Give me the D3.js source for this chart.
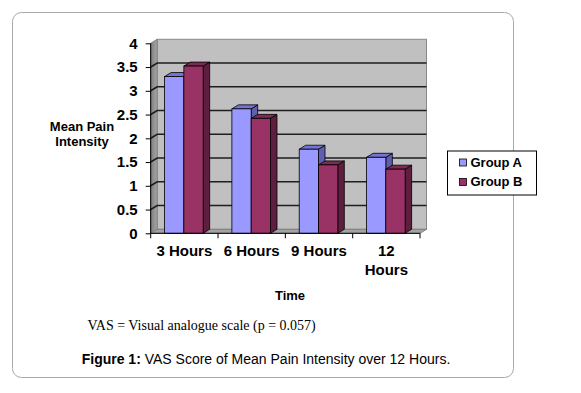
<!DOCTYPE html>
<html>
<head>
<meta charset="utf-8">
<script src="https://cdn.jsdelivr.net/npm/d3@7"></script>
<style>
  html, body { margin: 0; padding: 0; background: #fff; }
  svg { display: block; }
  .sans { font-family: "Liberation Sans", Arial, sans-serif; }
  .serif { font-family: "Liberation Serif", "Times New Roman", serif; }
</style>
</head>
<body>
<svg id="chart" width="581" height="393"></svg>
<script>
// ---- data ----
const categories = ["3 Hours", "6 Hours", "9 Hours", "12 Hours"];
const categoryLabelLines = [["3 Hours"], ["6 Hours"], ["9 Hours"], ["12", "Hours"]];
const seriesNames = ["Group A", "Group B"];
const groupA = [3.30, 2.62, 1.77, 1.60];
const groupB = [3.52, 2.42, 1.44, 1.35];
const yTicks = [0, 0.5, 1, 1.5, 2, 2.5, 3, 3.5, 4];
const yTickLabels = ["0", "0.5", "1", "1.5", "2", "2.5", "3", "3.5", "4"];
const yAxisTitle = ["Mean Pain", "Intensity"];
const xAxisTitle = "Time";
const noteText = "VAS = Visual analogue scale (p = 0.057)";
const captionBold = "Figure 1:";
const captionText = " VAS Score of Mean Pain Intensity over 12 Hours.";

// ---- layout ----
const svg = d3.select("#chart");
const left = 150.7, right = 420, y0px = 233.3, y4px = 43.3;
const dx = 6.5, dy = 4;

const x0 = d3.scaleBand().domain(categories).range([left, right]).paddingInner(0).paddingOuter(0);
const x1 = d3.scaleBand().domain(seriesNames).range([-0.5, x0.bandwidth() - 0.5]).paddingInner(0).paddingOuter(0.744);
const y = d3.scaleLinear().domain([0, 4]).range([y0px, y4px]);

const colors = {
  "Group A": { front: "#9999ff", top: "#7474d6", side: "#5f5fae" },
  "Group B": { front: "#993366", top: "#7d2a54", side: "#5e1f3f" }
};

// outer rounded frame
svg.append("rect").attr("x", 12.5).attr("y", 12.5).attr("width", 501).attr("height", 365)
  .attr("rx", 9).attr("fill", "#fff").attr("stroke", "#a9a9a9").attr("stroke-width", 1);

// defs
const defs = svg.append("defs");
const lg = defs.append("linearGradient").attr("id", "leftwall").attr("x1", "0").attr("x2", "1").attr("y1", "0").attr("y2", "0");
lg.append("stop").attr("offset", "0").attr("stop-color", "#7f7f7f");
lg.append("stop").attr("offset", "1").attr("stop-color", "#a6a6a6");

const yb = v => y(v) - dy; // back-wall y

// back wall
svg.append("rect").attr("x", left + dx).attr("y", yb(4)).attr("width", right - left).attr("height", y(0) - y(4))
  .attr("fill", "#c0c0c0").attr("stroke", "#8a8a8a").attr("stroke-width", 1);
// left wall
svg.append("path")
  .attr("d", `M${left},${y(4)}L${left + dx},${yb(4)}L${left + dx},${yb(0)}L${left},${y(0)}Z`)
  .attr("fill", "url(#leftwall)").attr("stroke", "#808080").attr("stroke-width", 1);
// floor
svg.append("path")
  .attr("d", `M${left},${y(0)}L${left + dx},${yb(0)}L${right + dx},${yb(0)}L${right},${y(0)}Z`)
  .attr("fill", "#a3a3a3").attr("stroke", "#808080").attr("stroke-width", 1);

// gridlines
const gridVals = yTicks.filter(v => v > 0 && v < 4);
svg.append("g").selectAll("path").data(gridVals).join("path")
  .attr("d", v => `M${left},${y(v)}L${left + dx},${yb(v)}L${right + dx},${yb(v)}`)
  .attr("fill", "none").attr("stroke", "#1e1e1e").attr("stroke-width", 1.6);

// bars
const barData = [];
categories.forEach((c, i) => {
  barData.push({ cat: c, series: "Group A", value: groupA[i] });
  barData.push({ cat: c, series: "Group B", value: groupB[i] });
});
const bars = svg.append("g").selectAll("g").data(barData).join("g");
bars.each(function(d) {
  const g = d3.select(this);
  const bx = x0(d.cat) + x1(d.series);
  const w = x1.bandwidth();
  const ty = y(d.value), by = y(0);
  const col = colors[d.series];
  g.append("path")
    .attr("d", `M${bx + w},${ty}L${bx + w + dx},${ty - dy}L${bx + w + dx},${by - dy}L${bx + w},${by}Z`)
    .attr("fill", col.side).attr("stroke", "#000").attr("stroke-width", 0.8).attr("stroke-linejoin", "round");
  g.append("path")
    .attr("d", `M${bx},${ty}L${bx + dx},${ty - dy}L${bx + w + dx},${ty - dy}L${bx + w},${ty}Z`)
    .attr("fill", col.top).attr("stroke", "#000").attr("stroke-width", 0.8).attr("stroke-linejoin", "round");
  g.append("rect").attr("x", bx).attr("y", ty).attr("width", w).attr("height", by - ty)
    .attr("fill", col.front).attr("stroke", "#000").attr("stroke-width", 0.8);
});

// y axis
const yAxis = d3.axisLeft(y).tickValues(yTicks).tickFormat((d, i) => yTickLabels[i]).tickSize(5).tickPadding(8);
const gy = svg.append("g").attr("transform", `translate(${left},0)`).call(yAxis);
gy.select(".domain").attr("stroke", "#000").attr("d", `M0,${y(0)}V${y(4)}`);
gy.selectAll(".tick line").attr("stroke", "#000");
gy.selectAll("text").attr("class", "sans").attr("font-size", 15).attr("font-weight", "bold").attr("fill", "#000");

// x axis
const xAxis = d3.axisBottom(x0).tickSize(0).tickFormat("");
const gx = svg.append("g").attr("transform", `translate(0,${y(0)})`).call(xAxis);
gx.select(".domain").attr("stroke", "#000").attr("d", `M${left},0H${right}`);
const edges = categories.map(c => x0(c)).concat([x0.range()[1]]);
gx.selectAll(".edge").data(edges).join("line").attr("class", "edge")
  .attr("x1", d => d).attr("x2", d => d).attr("y1", 0).attr("y2", 5).attr("stroke", "#000");
gx.selectAll(".tick").each(function(d, i) {
  const t = d3.select(this).append("text").attr("class", "sans").attr("font-size", 15)
    .attr("font-weight", "bold").attr("fill", "#000").attr("text-anchor", "middle");
  categoryLabelLines[i].forEach((ln, j) => {
    t.append("tspan").attr("x", 0).attr("y", 23.2 + j * 18.5).text(ln);
  });
});

// axis titles
const yt = svg.append("text").attr("class", "sans").attr("font-size", 13).attr("font-weight", "bold")
  .attr("text-anchor", "middle").attr("fill", "#000");
yAxisTitle.forEach((ln, j) => yt.append("tspan").attr("x", 82).attr("y", 131 + j * 15).text(ln));
svg.append("text").attr("class", "sans").attr("font-size", 13).attr("font-weight", "bold")
  .attr("text-anchor", "middle").attr("x", 290).attr("y", 300).attr("fill", "#000").text(xAxisTitle);

// legend
const lgX = 447.5, lgY = 151;
svg.append("rect").attr("x", lgX).attr("y", lgY).attr("width", 89).attr("height", 44)
  .attr("fill", "#fff").attr("stroke", "#000").attr("stroke-width", 1);
seriesNames.forEach((s, i) => {
  const ly = lgY + 15.5 + i * 19.5;
  svg.append("rect").attr("x", lgX + 12).attr("y", ly - 7.5).attr("width", 7).attr("height", 7)
    .attr("fill", colors[s].front).attr("stroke", "#000").attr("stroke-width", 0.8);
  svg.append("text").attr("class", "sans").attr("font-size", 13).attr("font-weight", "bold")
    .attr("x", lgX + 23).attr("y", ly).attr("fill", "#000").text(s);
});

// note and caption
svg.append("text").attr("class", "serif").attr("font-size", 14).attr("x", 87.5).attr("y", 330)
  .attr("fill", "#000").text(noteText);
const cap = svg.append("text").attr("class", "sans").attr("font-size", 14).attr("x", 266).attr("y", 364)
  .attr("text-anchor", "middle").attr("fill", "#000");
cap.append("tspan").attr("font-weight", "bold").text(captionBold);
cap.append("tspan").text(captionText);
</script>
</body>
</html>
